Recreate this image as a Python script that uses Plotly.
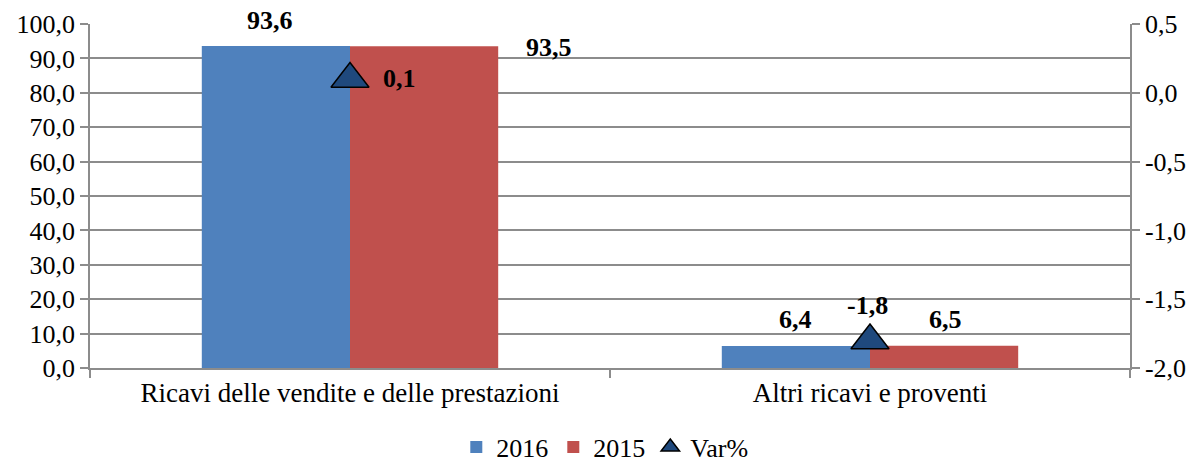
import plotly.graph_objects as go

categories = ["Ricavi delle vendite e delle prestazioni", "Altri ricavi e proventi"]
val_2016 = [93.6, 6.4]
val_2015 = [93.5, 6.5]
var_pct = [0.1, -1.8]
right_tick_vals = [-2.0, -1.5, -1.0, -0.5, 0.0, 0.5]
right_tick_text = ["-2,0", "-1,5", "-1,0", "-0,5", "0,0", "0,5"]

FONT = "Liberation Serif"
GRID = "#8c8c8c"
FS = 26
FSL = 26
FSC = 27

fig = go.Figure()
fig.add_trace(go.Bar(name="2016", x=categories, y=val_2016, marker=dict(color="#4F81BD", line=dict(width=0))))
fig.add_trace(go.Bar(name="2015", x=categories, y=val_2015, marker=dict(color="#C0504D", line=dict(width=0))))
fig.add_trace(go.Scatter(name="Var%", x=categories, y=var_pct, yaxis="y2", mode="markers",
                         marker=dict(symbol="triangle-up", size=33, color="#1F497D",
                                     line=dict(color="#000000", width=1.5))))

def fmt(v):
    return f"{v:.1f}".replace(".", ",")

lab = dict(font=dict(family=FONT, size=FSL, color="#000000"), showarrow=False)
ann = []
ann.append(dict(x=categories[0], y=val_2016[0], xref="x", yref="y", text="<b>%s</b>" % fmt(val_2016[0]), xshift=-80, yshift=26, **lab))
ann.append(dict(x=categories[1], y=val_2016[1], xref="x", yref="y", text="<b>%s</b>" % fmt(val_2016[1]), xshift=-75, yshift=26, **lab))
ann.append(dict(x=categories[0], y=val_2015[0], xref="x", yref="y", text="<b>%s</b>" % fmt(val_2015[0]), xshift=199, yshift=-1, **lab))
ann.append(dict(x=categories[1], y=val_2015[1], xref="x", yref="y", text="<b>%s</b>" % fmt(val_2015[1]), xshift=75, yshift=26, **lab))
ann.append(dict(x=categories[0], y=var_pct[0], xref="x", yref="y2", text="<b>%s</b>" % fmt(var_pct[0]), xshift=49, yshift=1, **lab))
ann.append(dict(x=categories[1], y=var_pct[1], xref="x", yref="y2", text="<b>%s</b>" % fmt(var_pct[1]), xshift=-3, yshift=35, **lab))

axis_common = dict(showline=True, linecolor=GRID, linewidth=1.5, ticks="outside", ticklen=8,
                   tickcolor=GRID, tickwidth=1.5)

fig.update_layout(
    width=1199, height=461,
    margin=dict(l=82, r=77, t=16, b=101, autoexpand=False),
    paper_bgcolor="white", plot_bgcolor="white",
    separators=",.",
    barmode="group", bargap=0.43, bargroupgap=0,
    font=dict(family=FONT, size=FS, color="#000000"),
    annotations=ann,
    xaxis=dict(type="category", showgrid=False, tickson="boundaries", range=[-0.5, 1.5],
               tickfont=dict(family=FONT, size=FSC, color="#000000"), **axis_common),
    yaxis=dict(range=[0, 100], dtick=10, tickformat=".1f", showgrid=True, gridcolor=GRID, gridwidth=1.5,
               zeroline=False, tickfont=dict(family=FONT, size=FS, color="#000000"), **axis_common),
    yaxis2=dict(range=[-2, 0.5], tickvals=right_tick_vals, ticktext=right_tick_text, overlaying="y", side="right",
                showgrid=False, zeroline=False, tickfont=dict(family=FONT, size=FS, color="#000000"), **axis_common),
    legend=dict(orientation="h", x=0.495, xanchor="center", y=-0.23, yanchor="middle",
                font=dict(family=FONT, size=FS), traceorder="normal", itemwidth=30),
    showlegend=True,
)

fig.write_html("out.html")
